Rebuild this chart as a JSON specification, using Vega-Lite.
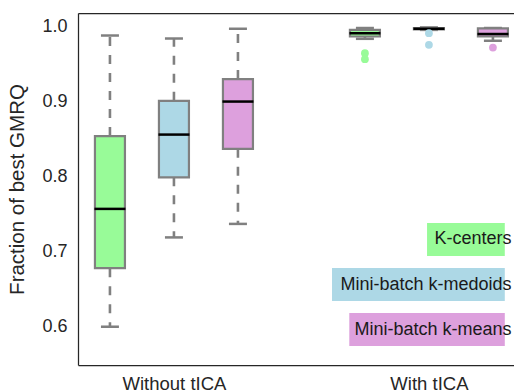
{
  "$schema": "https://vega.github.io/schema/vega-lite/v6.json",
  "width": 436,
  "height": 352,
  "autosize": {"type": "none"},
  "padding": {"left": 78, "top": 13, "right": 0, "bottom": 27},
  "background": "white",
  "config": {
    "font": "Liberation Sans",
    "view": {"stroke": null},
    "axis": {"grid": false, "domain": true, "domainColor": "#262626", "domainWidth": 1.25, "ticks": false, "labelColor": "#262626", "titleColor": "#262626", "labelFont": "Liberation Sans", "titleFont": "Liberation Sans"}
  },
  "datasets": {
    "boxes": [
      {"group": "Without tICA", "method": "K-centers", "lo": 0.600, "q1": 0.678, "med": 0.757, "q3": 0.854, "hi": 0.988},
      {"group": "Without tICA", "method": "Mini-batch k-medoids", "lo": 0.719, "q1": 0.799, "med": 0.856, "q3": 0.901, "hi": 0.984},
      {"group": "Without tICA", "method": "Mini-batch k-means", "lo": 0.737, "q1": 0.837, "med": 0.900, "q3": 0.930, "hi": 0.997},
      {"group": "With tICA", "method": "K-centers", "lo": 0.9836, "q1": 0.9867, "med": 0.991, "q3": 0.9956, "hi": 0.998},
      {"group": "With tICA", "method": "Mini-batch k-medoids", "lo": 0.9955, "q1": 0.9962, "med": 0.997, "q3": 0.9978, "hi": 0.9988},
      {"group": "With tICA", "method": "Mini-batch k-means", "lo": 0.981, "q1": 0.9867, "med": 0.990, "q3": 0.9975, "hi": 0.998}
    ],
    "outliers": [
      {"group": "With tICA", "method": "K-centers", "value": 0.9645},
      {"group": "With tICA", "method": "K-centers", "value": 0.9565},
      {"group": "With tICA", "method": "Mini-batch k-medoids", "value": 0.9911},
      {"group": "With tICA", "method": "Mini-batch k-medoids", "value": 0.9756},
      {"group": "With tICA", "method": "Mini-batch k-means", "value": 0.972}
    ],
    "legend": [
      {"method": "K-centers"},
      {"method": "Mini-batch k-medoids"},
      {"method": "Mini-batch k-means"}
    ]
  },
  "layer": [
    {
      "encoding": {
        "x": {
          "field": "group", "type": "nominal",
          "scale": {"type": "point", "domain": ["Without tICA", "With tICA"], "padding": 0.355, "align": 0.53},
          "axis": {"title": null, "labelAngle": 0, "labelFontSize": 18.5, "labelPadding": 9, "orient": "bottom"}
        },
        "xOffset": {
          "field": "method", "type": "nominal",
          "scale": {"type": "band", "domain": ["K-centers", "Mini-batch k-medoids", "Mini-batch k-means"], "range": [-96, 96], "paddingInner": 0, "paddingOuter": 0}
        }
      },
      "layer": [
        {
          "data": {"name": "boxes"},
          "mark": {"type": "rule", "color": "#808080", "strokeWidth": 2.6, "strokeDash": [9, 9]},
          "encoding": {
            "y": {"field": "q3", "type": "quantitative", "scale": {"domain": [0.549, 1.018], "nice": false, "zero": false},
              "axis": {"values": [0.6, 0.7, 0.8, 0.9, 1.0], "format": ".1f", "labelFontSize": 18, "labelPadding": 11, "title": "Fraction of best GMRQ", "titleFontSize": 20.5, "titleFontWeight": "normal", "titlePadding": 14, "orient": "left"}},
            "y2": {"field": "hi"}
          }
        },
        {
          "data": {"name": "boxes"},
          "mark": {"type": "rule", "color": "#808080", "strokeWidth": 2.6, "strokeDash": [9, 9]},
          "encoding": {
            "y": {"field": "q1", "type": "quantitative"},
            "y2": {"field": "lo"}
          }
        },
        {
          "data": {"name": "boxes"},
          "mark": {"type": "tick", "color": "#808080", "size": 18, "thickness": 2.5, "opacity": 1},
          "encoding": {"y": {"field": "hi", "type": "quantitative"}}
        },
        {
          "data": {"name": "boxes"},
          "mark": {"type": "tick", "color": "#808080", "size": 18, "thickness": 2.5, "opacity": 1},
          "encoding": {"y": {"field": "lo", "type": "quantitative"}}
        },
        {
          "data": {"name": "boxes"},
          "mark": {"type": "bar", "width": 30, "stroke": "#808080", "strokeWidth": 2.2, "opacity": 1},
          "encoding": {
            "y": {"field": "q1", "type": "quantitative"},
            "y2": {"field": "q3"},
            "color": {"field": "method", "type": "nominal", "scale": {"domain": ["K-centers", "Mini-batch k-medoids", "Mini-batch k-means"], "range": ["#98FB98", "#ADD8E6", "#DDA0DD"]}, "legend": null}
          }
        },
        {
          "data": {"name": "boxes"},
          "mark": {"type": "tick", "color": "#000000", "size": 31, "thickness": 2.5, "opacity": 1},
          "encoding": {"y": {"field": "med", "type": "quantitative"}}
        },
        {
          "data": {"name": "outliers"},
          "mark": {"type": "point", "filled": true, "size": 60, "opacity": 1},
          "encoding": {
            "y": {"field": "value", "type": "quantitative"},
            "color": {"field": "method", "type": "nominal", "legend": null}
          }
        }
      ]
    },
    {
      "data": {"name": "legend"},
      "transform": [{"calculate": "length(datum.method)", "as": "n"}],
      "encoding": {
        "y": {"field": "method", "type": "nominal",
          "scale": {"type": "band", "domain": ["K-centers", "Mini-batch k-medoids", "Mini-batch k-means"], "range": [210, 333], "paddingInner": 0.267, "paddingOuter": 0},
          "axis": null}
      },
      "layer": [
        {
          "mark": {"type": "bar"},
          "encoding": {
            "x": {"field": "n", "type": "quantitative", "scale": {"domain": [-1.065, 49.4], "range": [436, 0], "zero": false, "nice": false},
              "axis": {"orient": "top", "labels": false, "ticks": false, "title": null, "grid": false, "domain": true}},
            "x2": {"value": "width"},
            "color": {"field": "method", "type": "nominal", "scale": {"domain": ["K-centers", "Mini-batch k-medoids", "Mini-batch k-means"], "range": ["#98FB98", "#ADD8E6", "#DDA0DD"]}, "legend": null}
          }
        },
        {
          "mark": {"type": "text", "align": "right", "baseline": "middle", "dx": -2.5, "fontSize": 18, "color": "#1a1a1a", "font": "Liberation Sans"},
          "encoding": {
            "x": {"value": "width"},
            "text": {"field": "method", "type": "nominal"}
          }
        }
      ]
    }
  ],
  "resolve": {"scale": {"x": "independent", "y": "independent", "color": "independent"}, "axis": {"x": "independent"}}
}
